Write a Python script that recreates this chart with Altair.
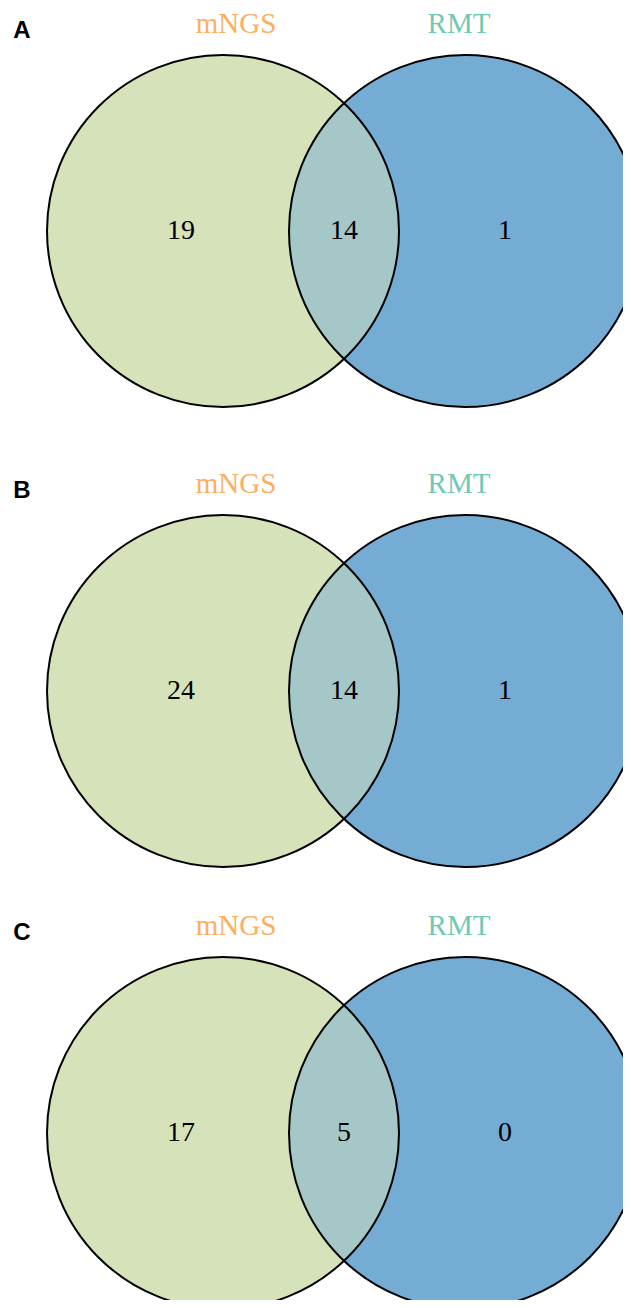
import altair as alt
import pandas as pd

# ---- data ----
panels = ["A", "B", "C"]
set_names = ["mNGS", "RMT"]
only_left = [19, 24, 17]
both = [14, 14, 5]
only_right = [1, 1, 0]

label_colors = ["#FDAE61", "#6EC9B6"]
fill_left = "#D6E2B9"
fill_right = "#75ACD4"

# ---- layout (pixels) ----
R = 176.0            # circle radius
D = 242.0 / R        # distance between centres, in radii
W = 615
panel_heights = [460, 442, 390]
CY = 223             # circle centre from panel top
CX = 215             # left circle centre from left edge
SIZE = (2 * R) ** 2

num_x = [-42 / R, D / 2, 282 / R]
lab_x = [13 / R, 236 / R]
lab_y = 207 / R
letter_x, letter_y = -201 / R, 200 / R


def panel(i, H):
    xs = alt.Scale(domain=[-CX / R, (W - CX) / R], nice=False, zero=False)
    ys = alt.Scale(domain=[-(H - CY) / R, CY / R], nice=False, zero=False)
    X = lambda f: alt.X(f, type="quantitative", scale=xs, axis=None)
    Y = lambda f: alt.Y(f, type="quantitative", scale=ys, axis=None)

    circ = pd.DataFrame({"x": [0.0, D], "y": [0.0, 0.0], "set": set_names})
    left = circ.iloc[[0]]
    right = circ.iloc[[1]]

    base_pt = dict(shape="circle", size=SIZE, filled=True, strokeWidth=0, clip=True)
    l1 = alt.Chart(left).mark_point(color=fill_left, opacity=1, **base_pt).encode(x=X("x"), y=Y("y"))
    r1 = alt.Chart(right).mark_point(color=fill_right, opacity=1, **base_pt).encode(x=X("x"), y=Y("y"))
    l2 = alt.Chart(left).mark_point(color=fill_left, opacity=0.5, **base_pt).encode(x=X("x"), y=Y("y"))
    outl = alt.Chart(circ).mark_point(shape="circle", size=SIZE, filled=False, stroke="black",
                                      strokeWidth=2, opacity=1, fillOpacity=0, clip=True).encode(
        x=X("x"), y=Y("y"))

    nums = pd.DataFrame({"x": num_x, "y": [0.0] * 3,
                         "v": [str(only_left[i]), str(both[i]), str(only_right[i])]})
    ntext = alt.Chart(nums).mark_text(font="Liberation Serif", fontSize=28, color="black",
                                      baseline="middle", align="center").encode(x=X("x"), y=Y("y"), text="v:N")

    labs = pd.DataFrame({"x": lab_x, "y": [lab_y] * 2, "t": set_names})
    ltext = alt.Chart(labs).mark_text(font="Liberation Serif", fontSize=29, baseline="middle",
                                      align="center").encode(
        x=X("x"), y=Y("y"), text="t:N",
        color=alt.Color("t:N", scale=alt.Scale(domain=set_names, range=label_colors), legend=None))

    let = pd.DataFrame({"x": [letter_x], "y": [letter_y], "t": [panels[i]]})
    ptext = alt.Chart(let).mark_text(font="Liberation Sans", fontSize=24, fontWeight="bold",
                                     color="black", baseline="middle", align="center").encode(
        x=X("x"), y=Y("y"), text="t:N")

    return alt.layer(l1, r1, l2, outl, ntext, ltext, ptext).properties(width=W, height=H)


chart = alt.vconcat(*[panel(i, h) for i, h in enumerate(panel_heights)], spacing=0).properties(
    padding=0
).configure_view(stroke=None).resolve_scale(color="independent")

chart.save("out.html", embed_options={"renderer": "svg", "actions": False})
